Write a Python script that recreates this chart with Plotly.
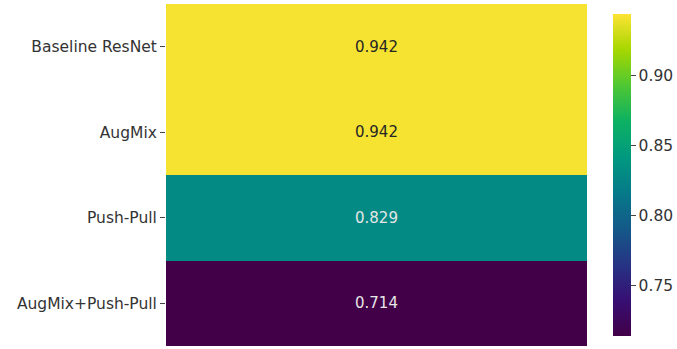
import colorsys
import plotly.graph_objects as go
from plotly.colors import sequential, hex_to_rgb

methods = ["Baseline ResNet", "AugMix", "Push-Pull", "AugMix+Push-Pull"]
accuracy = [0.942, 0.942, 0.829, 0.714]
text_colors = ["#262626", "#262626", "#e6e6e6", "#e6e6e6"]
colorbar_ticks = [0.75, 0.80, 0.85, 0.90]

# viridis with boosted saturation in the middle, as seen in the reference image
base = sequential.Viridis
scale = []
for i, h in enumerate(base):
    r, g, b = [c / 255 for c in hex_to_rgb(h)]
    if 0 < i < len(base) - 1:
        hh, s, v = colorsys.rgb_to_hsv(r, g, b)
        s = min(1.0, s * 1.3)
        r, g, b = colorsys.hsv_to_rgb(hh, s, v * 0.97)
    scale.append([i / (len(base) - 1), f"rgb({int(r*255)},{int(g*255)},{int(b*255)})"])
scale[0][1] = "rgb(66,0,72)"
scale[-1][1] = "rgb(253,227,52)"

z = [[v] for v in accuracy]

fig = go.Figure()
fig.add_trace(go.Heatmap(
    z=z, x=[""], y=methods,
    colorscale=scale, zmin=0.714, zmax=0.944,
    colorbar=dict(
        thickness=18, len=1.0, lenmode="fraction", y=0.5, yanchor="middle",
        x=1.038, xanchor="left", xpad=10, outlinewidth=0,
        tickvals=colorbar_ticks, ticktext=[f"{t:.2f}" for t in colorbar_ticks],
        ticks="outside", ticklen=5, tickcolor="#444", tickwidth=1,
        tickfont=dict(family="DejaVu Sans", size=15.5, color="#333"),
    ),
    hoverinfo="skip",
))

for m, v, c in zip(methods, accuracy, text_colors):
    fig.add_annotation(x=0, y=m, text=f"{v:.3f}", showarrow=False,
                       font=dict(family="DejaVu Sans", size=15, color=c))

fig.update_layout(
    width=677, height=349,
    margin=dict(l=166, r=90, t=4, b=3, autoexpand=False),
    paper_bgcolor="white", plot_bgcolor="white",
    xaxis=dict(showticklabels=False, ticks="", showgrid=False, zeroline=False, showline=False),
    yaxis=dict(autorange="reversed", ticks="outside", ticklen=5, tickcolor="#444",
               showgrid=False, zeroline=False, showline=False,
               tickfont=dict(family="DejaVu Sans", size=15.5, color="#333")),
)

fig.write_html("out.html")
